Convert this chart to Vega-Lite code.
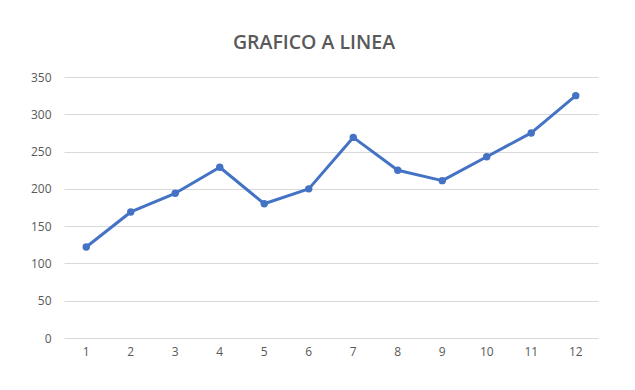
{
  "$schema": "https://vega.github.io/schema/vega-lite/v6.json",
  "autosize": "none",
  "width": 534,
  "height": 261,
  "padding": {"left": 64, "top": 77, "right": 37, "bottom": 52},
  "background": "white",
  "title": {
    "text": "GRAFICO A LINEA",
    "font": "Open Sans",
    "fontSize": 19.5,
    "fontWeight": 600,
    "color": "#595959",
    "anchor": "middle",
    "dx": -17,
    "offset": 18
  },
  "config": {
    "view": {"stroke": null},
    "axis": {
      "labelFont": "Open Sans",
      "labelFontSize": 12,
      "labelColor": "#595959",
      "gridColor": "#d9d9d9",
      "domain": false,
      "ticks": false
    }
  },
  "data": {
    "values": [
      {"x": 1, "y": 122},
      {"x": 2, "y": 169},
      {"x": 3, "y": 194},
      {"x": 4, "y": 229},
      {"x": 5, "y": 180},
      {"x": 6, "y": 200},
      {"x": 7, "y": 269},
      {"x": 8, "y": 225},
      {"x": 9, "y": 211},
      {"x": 10, "y": 243},
      {"x": 11, "y": 275},
      {"x": 12, "y": 325}
    ]
  },
  "encoding": {
    "x": {
      "field": "x",
      "type": "ordinal",
      "scale": {"type": "band", "paddingInner": 0, "paddingOuter": 0},
      "axis": {"title": null, "labelAngle": 0, "grid": false, "labelPadding": 8}
    },
    "y": {
      "field": "y",
      "type": "quantitative",
      "scale": {"domain": [0, 350], "nice": false},
      "axis": {"title": null, "values": [0, 50, 100, 150, 200, 250, 300, 350], "labelPadding": 13, "grid": true}
    }
  },
  "layer": [
    {"mark": {"type": "line", "color": "#4472C4", "strokeWidth": 3, "strokeCap": "round", "strokeJoin": "round"}},
    {"mark": {"type": "circle", "color": "#4472C4", "size": 55, "opacity": 1}}
  ]
}
